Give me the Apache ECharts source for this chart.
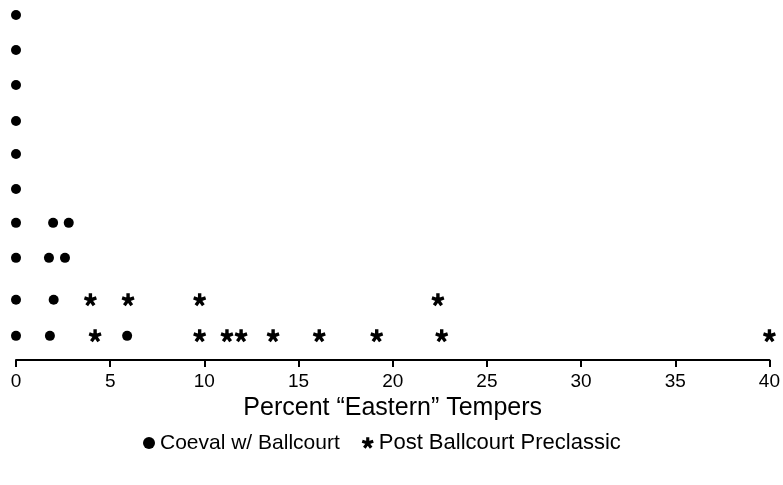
<!DOCTYPE html>
<html>
<head>
<meta charset="utf-8">
<script src="https://cdn.jsdelivr.net/npm/echarts@6/dist/echarts.min.js"></script>
<style>
  html, body { margin: 0; padding: 0; background: #fff; }
  #chart { width: 783px; height: 485px; }
</style>
</head>
<body>
<div id="chart"></div>
<script>
// stacking heights of the rows of symbols (row 0 sits just above the axis)
const rowLevels = [0, 1.03, 2.23, 3.23, 4.2, 5.2, 6.14, 7.17, 8.17, 9.17]

// Coeval w/ Ballcourt
const coevalX = [0, 0, 0, 0, 0, 0, 0, 0, 0, 0, 1.8, 5.9, 2.0, 1.75, 2.6, 1.97, 2.8]
const coevalRow = [0, 1, 2, 3, 4, 5, 6, 7, 8, 9, 0, 0, 1, 2, 2, 3, 3]

// Post Ballcourt Preclassic
const postX = [4.2, 9.75, 11.2, 11.95, 13.65, 16.1, 19.15, 22.6, 40, 3.95, 5.95, 9.75, 22.4]
const postRow = [0, 0, 0, 0, 0, 0, 0, 0, 0, 1, 1, 1, 1]

const xTicks = [0, 5, 10, 15, 20, 25, 30, 35, 40]

// five armed asterisk
function asteriskPath() {
  const w = 0.27
  let d = ''
  for (let i = 0; i < 5; i++) {
    const a = -Math.PI / 2 + i * 2 * Math.PI / 5
    const cx = Math.cos(a), cy = Math.sin(a)
    const px = -Math.sin(a) * w, py = Math.cos(a) * w
    const pts = [
      [px, py], [cx + px, cy + py], [cx - px, cy - py], [-px, -py]
    ]
    d += 'M' + pts.map(p => (p[0] * 10 + 10).toFixed(2) + ' ' + (p[1] * 10 + 10).toFixed(2)).join('L') + 'Z'
  }
  return 'path://' + d
}

const pairs = (xs, rows) => xs.map((x, i) => [x, rowLevels[rows[i]]])

const chart = echarts.init(document.getElementById('chart'))
chart.setOption({
  animation: false,
  textStyle: { fontFamily: 'Liberation Sans, Arial, sans-serif', color: '#000' },
  grid: { left: 16, right: 13, top: 0, bottom: 125 },
  xAxis: {
    type: 'value',
    min: 0,
    max: 40,
    interval: 5,
    name: 'Percent \u201cEastern\u201d Tempers',
    nameLocation: 'middle',
    nameGap: 32,
    nameTextStyle: { fontSize: 25, color: '#000' },
    axisLine: { onZero: false, lineStyle: { color: '#000', width: 2 } },
    axisTick: { show: true, length: 7, lineStyle: { color: '#000', width: 2 } },
    axisLabel: {
      fontSize: 19,
      color: '#000',
      margin: 12,
      formatter: v => xTicks.includes(v) ? String(v) : ''
    },
    splitLine: { show: false }
  },
  yAxis: {
    type: 'value',
    min: -0.69,
    max: 9.6,
    show: false
  },
  legend: {
    left: 138,
    top: 427,
    itemWidth: 12,
    itemHeight: 12,
    itemGap: 22,
    textStyle: { fontSize: 21, color: '#000' },
    data: [
      { name: 'Coeval w/ Ballcourt', icon: 'circle' },
      { name: 'Post Ballcourt Preclassic', icon: asteriskPath(), textStyle: { fontSize: 22 } }
    ]
  },
  series: [
    {
      name: 'Coeval w/ Ballcourt',
      type: 'scatter',
      symbol: 'circle',
      symbolSize: 10,
      itemStyle: { color: '#000', opacity: 1 },
      data: pairs(coevalX, coevalRow)
    },
    {
      name: 'Post Ballcourt Preclassic',
      type: 'scatter',
      symbol: asteriskPath(),
      symbolSize: 13,
      clip: false,
      itemStyle: { color: '#000', opacity: 1 },
      data: pairs(postX, postRow)
    }
  ]
})
</script>
</body>
</html>
